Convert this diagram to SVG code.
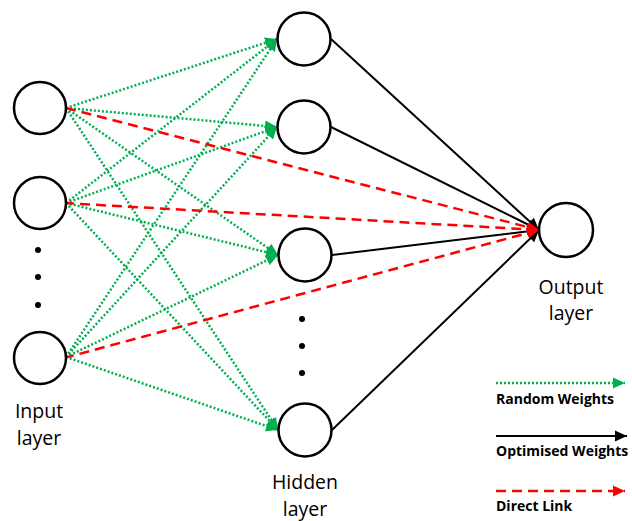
<svg xmlns="http://www.w3.org/2000/svg" width="632" height="521" viewBox="0 0 632 521">
<style>
.node{fill:#fff;stroke:#000;stroke-width:2.5}
.g{stroke:#00B050;stroke-width:2.5;stroke-dasharray:2 2;fill:none}
.r{stroke:#FF0000;stroke-width:2.5;stroke-dasharray:10 6;fill:none}
.k{stroke:#000;stroke-width:2;fill:none}
.lbl{font-family:"Open Sans","Liberation Sans",sans-serif;font-size:19.5px;fill:#000;text-anchor:middle}
.leg{font-family:"Open Sans","Liberation Sans",sans-serif;font-size:14px;font-weight:bold;fill:#000}
.dot{fill:#000}
</style>
<defs>
<marker id="ag" markerUnits="userSpaceOnUse" markerWidth="13" markerHeight="13" refX="12" refY="6.5" orient="auto"><path d="M0,1 L12,6.5 L0,12 Z" fill="#00B050"/></marker>
<marker id="ar" markerUnits="userSpaceOnUse" markerWidth="13" markerHeight="13" refX="12" refY="6.5" orient="auto"><path d="M0,1 L12,6.5 L0,12 Z" fill="#FF0000"/></marker>
<marker id="ak" markerUnits="userSpaceOnUse" markerWidth="13" markerHeight="13" refX="12" refY="6.5" orient="auto"><path d="M0,1 L12,6.5 L0,12 Z" fill="#000"/></marker>
</defs>
<g id="connectors">
<g id="random-weights">
<line class="g" x1="66" y1="108" x2="277" y2="39" marker-end="url(#ag)"/>
<line class="g" x1="66" y1="108" x2="277" y2="127" marker-end="url(#ag)"/>
<line class="g" x1="66" y1="108" x2="278" y2="255" marker-end="url(#ag)"/>
<line class="g" x1="66" y1="108" x2="278" y2="430" marker-end="url(#ag)"/>
<line class="g" x1="66" y1="203" x2="277" y2="39" marker-end="url(#ag)"/>
<line class="g" x1="66" y1="203" x2="277" y2="127" marker-end="url(#ag)"/>
<line class="g" x1="66" y1="203" x2="278" y2="255" marker-end="url(#ag)"/>
<line class="g" x1="66" y1="203" x2="278" y2="430" marker-end="url(#ag)"/>
<line class="g" x1="66" y1="357" x2="277" y2="39" marker-end="url(#ag)"/>
<line class="g" x1="66" y1="357" x2="277" y2="127" marker-end="url(#ag)"/>
<line class="g" x1="66" y1="357" x2="278" y2="255" marker-end="url(#ag)"/>
<line class="g" x1="66" y1="357" x2="278" y2="430" marker-end="url(#ag)"/>
</g>
<g id="optimised-weights">
<line class="k" x1="331" y1="39" x2="539" y2="230" marker-end="url(#ak)"/>
<line class="k" x1="331" y1="127" x2="539" y2="230" marker-end="url(#ak)"/>
<line class="k" x1="332" y1="255" x2="539" y2="230" marker-end="url(#ak)"/>
<line class="k" x1="332" y1="430" x2="539" y2="230" marker-end="url(#ak)"/>
</g>
<g id="direct-links">
<line class="r" x1="66" y1="108" x2="539" y2="230" marker-end="url(#ar)"/>
<line class="r" x1="64" y1="203" x2="539" y2="230" marker-end="url(#ar)"/>
<line class="r" x1="64" y1="358" x2="539" y2="230" marker-end="url(#ar)"/>
</g>
</g>
<g id="input1"><circle class="node" cx="40" cy="108" r="26"/></g>
<g id="input2"><circle class="node" cx="40" cy="203" r="26"/></g>
<g id="input-dots"><circle class="dot" cx="38" cy="250" r="3"/><circle class="dot" cx="38" cy="277" r="3"/><circle class="dot" cx="38" cy="305" r="3"/></g>
<g id="input3"><circle class="node" cx="40" cy="358" r="26"/></g>
<g id="hidden1"><circle class="node" cx="304" cy="39" r="26.5"/></g>
<g id="hidden2"><circle class="node" cx="304" cy="127" r="26.5"/></g>
<g id="hidden3"><circle class="node" cx="305" cy="255" r="26.5"/></g>
<g id="hidden-dots"><circle class="dot" cx="302" cy="319" r="3"/><circle class="dot" cx="302" cy="346" r="3"/><circle class="dot" cx="302" cy="373" r="3"/></g>
<g id="hidden4"><circle class="node" cx="305" cy="430" r="26.5"/></g>
<g id="output"><circle class="node" cx="566" cy="230" r="27"/></g>
<g id="labels">
<text class="lbl" x="39" y="418">Input</text>
<text class="lbl" x="39" y="445">layer</text>
<text class="lbl" x="305" y="489">Hidden</text>
<text class="lbl" x="305" y="516">layer</text>
<text class="lbl" x="571" y="294">Output</text>
<text class="lbl" x="571" y="320">layer</text>
</g>
<g id="legend">
<line class="g" x1="496" y1="383" x2="625" y2="383" marker-end="url(#ag)"/>
<text class="leg" x="496" y="404">Random Weights</text>
<line class="k" x1="496" y1="436" x2="627" y2="436" marker-end="url(#ak)"/>
<text class="leg" x="496" y="456">Optimised Weights</text>
<line class="r" x1="496" y1="491" x2="625" y2="491" marker-end="url(#ar)"/>
<text class="leg" x="496" y="511">Direct Link</text>
</g>
</svg>
